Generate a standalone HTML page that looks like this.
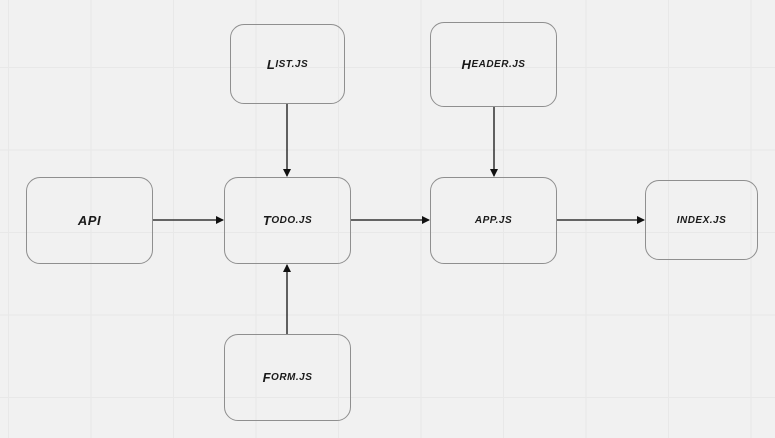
<!DOCTYPE html>
<html><head><style>
body{margin:0;width:775px;height:438px;overflow:hidden;background:#f1f1f1;
background-image:linear-gradient(#e8e8e8 1px,transparent 1px),linear-gradient(90deg,#e8e8e8 1px,transparent 1px);
background-size:82.5px 82.5px;background-position:8px 67px;}
.b{position:absolute;border:1px solid #8f8f8f;border-radius:14px;box-sizing:border-box;display:flex;align-items:center;justify-content:center;
font-family:"Liberation Sans",sans-serif;font-weight:bold;font-style:italic;font-variant:small-caps;font-size:13px;color:#1a1a1a;letter-spacing:0.5px}
.b span{font-size:13px}
svg{position:absolute;left:0;top:0}
</style></head><body>
<div class="b" style="left:26px;top:177px;width:127px;height:87px">API</div>
<div class="b" style="left:224px;top:177px;width:127px;height:87px">T<span style="font-variant:normal;font-size:10px">ODO.JS</span></div>
<div class="b" style="left:430px;top:177px;width:127px;height:87px"><span style="font-variant:normal;font-size:10px">APP.JS</span></div>
<div class="b" style="left:645px;top:180px;width:113px;height:80px"><span style="font-variant:normal;font-size:10px">INDEX.JS</span></div>
<div class="b" style="left:230px;top:24px;width:115px;height:80px">L<span style="font-variant:normal;font-size:10px">IST.JS</span></div>
<div class="b" style="left:430px;top:22px;width:127px;height:85px">H<span style="font-variant:normal;font-size:10px">EADER.JS</span></div>
<div class="b" style="left:224px;top:334px;width:127px;height:87px">F<span style="font-variant:normal;font-size:10px">ORM.JS</span></div>
<svg width="775" height="438">
<defs><marker id="a" markerWidth="8" markerHeight="8" refX="7" refY="4" orient="auto" markerUnits="userSpaceOnUse"><path d="M0,0L8,4L0,8z" fill="#111"/></marker></defs>
<g stroke="#111" stroke-width="1.3" fill="none">
<line x1="153" y1="220" x2="223" y2="220" marker-end="url(#a)"/>
<line x1="351" y1="220" x2="429" y2="220" marker-end="url(#a)"/>
<line x1="557" y1="220" x2="644" y2="220" marker-end="url(#a)"/>
<line x1="287" y1="104" x2="287" y2="176" marker-end="url(#a)"/>
<line x1="494" y1="107" x2="494" y2="176" marker-end="url(#a)"/>
<line x1="287" y1="334" x2="287" y2="265" marker-end="url(#a)"/>
</g></svg>
</body></html>
